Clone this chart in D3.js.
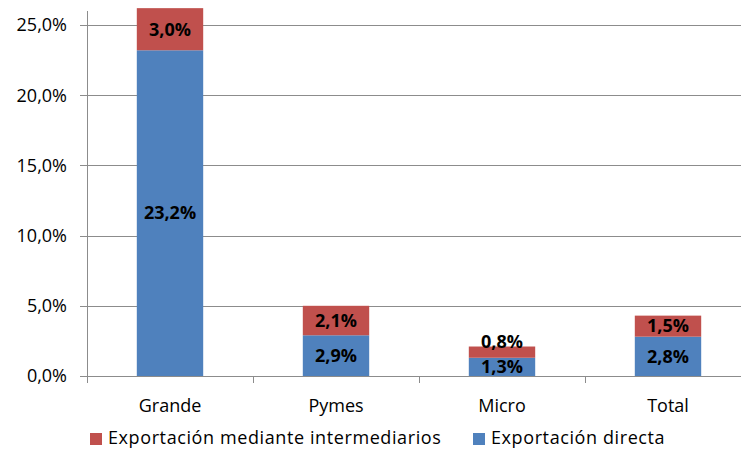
<!DOCTYPE html>
<html>
<head>
<meta charset="utf-8">
<script src="https://cdn.jsdelivr.net/npm/d3@7"></script>
<style>
body { margin: 0; background: #fff; }
text { font-family: "Open Sans", "Noto Sans", sans-serif; fill: #000; }
</style>
</head>
<body>
<svg id="chart" width="741" height="449"></svg>
<script>
var categories = ["Grande", "Pymes", "Micro", "Total"];
var directa = [23.2, 2.9, 1.3, 2.8];
var intermediarios = [3.0, 2.1, 0.8, 1.5];
var yTicks = [0, 5, 10, 15, 20, 25];
var seriesNames = ["Exportación mediante intermediarios", "Exportación directa"];
var colors = { directa: "#4F81BD", inter: "#C0504D" };

var svg = d3.select("#chart");
var pLeft = 87, pRight = 751, pTop = 25, pBottom = 376;

var x = d3.scaleBand().domain(categories).range([pLeft, pRight]).paddingInner(0.6).paddingOuter(0.3);
var y = d3.scaleLinear().domain([0, 25]).range([pBottom, pTop]);

function fmt(v) { return d3.format(".1f")(v).replace(".", ",") + "%"; }

// grid
svg.append("g").selectAll("line").data(yTicks.filter(function(d) { return d > 0; }))
	.enter().append("line")
	.attr("x1", pLeft).attr("x2", pRight)
	.attr("y1", function(d) { return Math.round(y(d)) + 0.5; })
	.attr("y2", function(d) { return Math.round(y(d)) + 0.5; })
	.attr("stroke", "#8c8c8c").attr("stroke-width", 1);

// bars
var data = categories.map(function(c, i) { return { cat: c, d: directa[i], m: intermediarios[i] }; });
var g = svg.append("g");
g.selectAll("rect.dir").data(data).enter().append("rect")
	.attr("x", function(d) { return x(d.cat); })
	.attr("width", x.bandwidth())
	.attr("y", function(d) { return y(d.d); })
	.attr("height", function(d) { return y(0) - y(d.d); })
	.attr("fill", colors.directa);
g.selectAll("rect.int").data(data).enter().append("rect")
	.attr("x", function(d) { return x(d.cat); })
	.attr("width", x.bandwidth())
	.attr("y", function(d) { return y(d.d + d.m); })
	.attr("height", function(d) { return y(d.d) - y(d.d + d.m); })
	.attr("fill", colors.inter);

// axes
svg.append("line").attr("x1", pLeft + 0.5).attr("x2", pLeft + 0.5).attr("y1", 11).attr("y2", pBottom)
	.attr("stroke", "#8c8c8c");
svg.append("line").attr("x1", pLeft - 7).attr("x2", pRight).attr("y1", pBottom + 0.5).attr("y2", pBottom + 0.5)
	.attr("stroke", "#8c8c8c");
svg.append("g").selectAll("line").data(yTicks).enter().append("line")
	.attr("x1", pLeft - 7).attr("x2", pLeft)
	.attr("y1", function(d) { return Math.round(y(d)) + 0.5; })
	.attr("y2", function(d) { return Math.round(y(d)) + 0.5; })
	.attr("stroke", "#8c8c8c");
svg.append("g").selectAll("line").data(d3.range(categories.length + 1)).enter().append("line")
	.attr("x1", function(i) { return Math.round(pLeft + i * (pRight - pLeft) / categories.length) + 0.5; })
	.attr("x2", function(i) { return Math.round(pLeft + i * (pRight - pLeft) / categories.length) + 0.5; })
	.attr("y1", pBottom).attr("y2", pBottom + 7)
	.attr("stroke", "#8c8c8c");

// y labels
svg.append("g").selectAll("text").data(yTicks).enter().append("text")
	.attr("x", pLeft - 20).attr("y", function(d) { return y(d); })
	.attr("dy", "0.35em").attr("text-anchor", "end")
	.style("font-size", "18px")
	.text(function(d) { return d3.format(".1f")(d).replace(".", ",") + "%"; });

// x labels
svg.append("g").selectAll("text").data(categories).enter().append("text")
	.attr("x", function(d) { return x(d) + x.bandwidth() / 2; })
	.attr("y", 406).attr("dy", "0.35em").attr("text-anchor", "middle")
	.style("font-size", "18px")
	.text(function(d) { return d; });

// data labels
var lab = svg.append("g").style("font-size", "18px").style("font-weight", "bold");
lab.selectAll("text.d").data(data).enter().append("text")
	.attr("x", function(d) { return x(d.cat) + x.bandwidth() / 2; })
	.attr("y", function(d) { return (y(0) + y(d.d)) / 2; })
	.attr("dy", "0.35em").attr("text-anchor", "middle")
	.text(function(d) { return fmt(d.d); });
lab.selectAll("text.m").data(data).enter().append("text")
	.attr("x", function(d) { return x(d.cat) + x.bandwidth() / 2; })
	.attr("y", function(d) {
		var c = (y(d.d) + y(d.d + d.m)) / 2;
		var h = y(d.d) - y(d.d + d.m);
		return h < 20 ? c - 10 : c;
	})
	.attr("dy", "0.35em").attr("text-anchor", "middle")
	.text(function(d) { return fmt(d.m); });

// legend
var legend = svg.append("g").style("font-size", "18px").style("letter-spacing", "0.6px");
var lx = [90, 473];
var lc = [colors.inter, colors.directa];
seriesNames.forEach(function(n, i) {
	legend.append("rect").attr("x", lx[i]).attr("y", 433).attr("width", 12).attr("height", 12).attr("fill", lc[i]);
	legend.append("text").attr("x", lx[i] + 18).attr("y", 438).attr("dy", "0.35em").text(n);
});
</script>
</body>
</html>
